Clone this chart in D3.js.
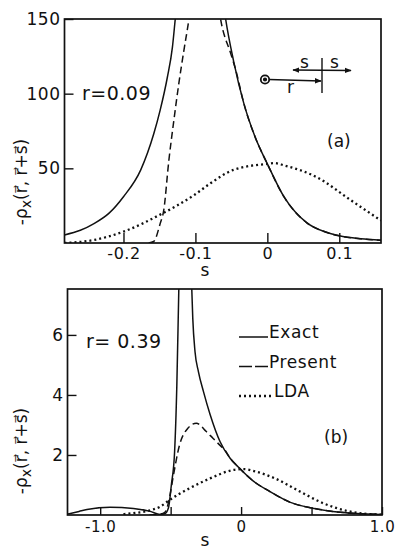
<!DOCTYPE html>
<html>
<head>
<meta charset="utf-8">
<script src="https://cdn.jsdelivr.net/npm/d3@7"></script>
<style>
  body { margin: 0; background: #fff; }
  svg text { font-family: "DejaVu Sans", sans-serif; fill: #111; }
</style>
</head>
<body>
<div id="chart"></div>
<script>
// panel (a), r = 0.09  : [s, -rho_x]
var exactA = [[-0.282,5.4],[-0.26,8.5],[-0.241,13],[-0.22,20],[-0.2,31],[-0.176,49],[-0.158,73],[-0.149,89],
    [-0.139,111],[-0.132,131],[-0.128,150],[-0.11,220],[-0.092,320],[-0.075,220],[-0.058,150],[-0.047,122],
    [-0.033,94],[-0.017,71],[0,53],[0.023,31],[0.055,13.5],[0.08,7.5],[0.1,4.8],[0.13,2.8],[0.158,1.8]];
var presentA = [[-0.165,0],[-0.158,1],[-0.149,13],[-0.144,22],[-0.137,55],[-0.13,82],[-0.123,107],[-0.116,129],
    [-0.109,150],[-0.095,210],[-0.087,230],[-0.078,200],[-0.065,150],[-0.051,127],[-0.044,116],
    [-0.033,94],[-0.017,71],[0,53],[0.023,31],[0.055,13.5],[0.08,7.5],[0.1,4.8],[0.13,2.8],[0.158,1.8]];
var ldaA = [[-0.282,0],[-0.241,2],[-0.2,7.6],[-0.149,19],[-0.102,32],[-0.079,40],[-0.047,49],[0,53],
    [0.01,53.5],[0.023,52],[0.069,44],[0.115,29],[0.158,15]];

// panel (b), r = 0.39
var exactB = [[-1.232,0.03],[-1.15,0.12],[-1.094,0.18],[-0.93,0.26],[-0.764,0.22],[-0.645,0.12],[-0.574,0.02],
    [-0.539,0.05],[-0.515,0.25],[-0.495,1.0],[-0.472,2.1],[-0.456,4.33],[-0.442,7.53],[-0.42,12],[-0.395,20],
    [-0.37,12],[-0.35,7.53],[-0.343,6.56],[-0.327,5.44],[-0.303,4.78],[-0.267,4.11],[-0.22,3.35],[-0.149,2.44],
    [-0.078,1.89],[-0.02,1.6],[0.087,1.13],[0.205,0.78],[0.35,0.42],[0.518,0.22],[0.65,0.12],[0.82,0.05],[1.0,0.02]];
var presentB = [[-0.65,0],[-0.574,0.03],[-0.539,0.1],[-0.507,0.6],[-0.484,1.22],[-0.437,2.33],[-0.378,2.89],
    [-0.318,3.06],[-0.247,2.78],[-0.2,2.56],[-0.14,2.28],[-0.12,2.2],[-0.078,1.89],[-0.02,1.6],[0.087,1.13],
    [0.205,0.78],[0.35,0.42],[0.518,0.22],[0.65,0.12],[0.82,0.05],[1.0,0.02]];
var ldaB = [[-0.835,0.03],[-0.75,0.07],[-0.669,0.13],[-0.574,0.28],[-0.507,0.5],[-0.44,0.7],[-0.366,0.89],
    [-0.22,1.22],[-0.055,1.5],[0.02,1.53],[0.11,1.44],[0.25,1.2],[0.418,0.78],[0.584,0.39],[0.75,0.14],
    [0.915,0.03],[1.0,0.01]];

var xTicksA = [-0.2, -0.1, 0, 0.1];
var xLabelsA = ["-0.2", "-0.1", "0", "0.1"];
var yTicksA = [50, 100, 150];
var xTicksB = [-1.0, -0.5, 0, 0.5, 1.0];
var xLabelsB = ["-1.0", "", "0", "", "1.0"];
var yTicksB = [2, 4, 6];

var styles = {
    exact: {dash: null, width: 1.5},
    present: {dash: "7,4", width: 1.5},
    lda: {dash: "2,3", width: 2.3}
};

var svg = d3.select("#chart").append("svg")
    .attr("width", 398)
    .attr("height", 550);

function drawPanel(cfg){
    var x = d3.scaleLinear().domain(cfg.xDomain).range([cfg.left, cfg.right]);
    var y = d3.scaleLinear().domain(cfg.yDomain).range([cfg.bottom, cfg.top]);
    var g = svg.append("g");

    g.append("clipPath").attr("id", cfg.id + "-clip")
        .append("rect")
        .attr("x", cfg.left).attr("y", cfg.top)
        .attr("width", cfg.right - cfg.left).attr("height", cfg.bottom - cfg.top);

    var line = d3.line()
        .x(function(d){ return x(d[0]); })
        .y(function(d){ return y(d[1]); })
        .curve(d3.curveMonotoneX);

    var curves = g.append("g").attr("clip-path", "url(#" + cfg.id + "-clip)");
    cfg.series.forEach(function(s){
        curves.append("path")
            .attr("d", line(s.data))
            .attr("fill", "none")
            .attr("stroke", "#111")
            .attr("stroke-width", styles[s.kind].width)
            .attr("stroke-dasharray", styles[s.kind].dash);
    });

    // axes, ticks pointing inward
    var xAxis = g.append("g")
        .attr("transform", "translate(0," + cfg.bottom + ")")
        .call(d3.axisBottom(x).tickValues(cfg.xTicks)
            .tickSize(-cfg.tickLen).tickPadding(cfg.xPad)
            .tickFormat(function(d, i){ return cfg.xLabels[i]; }));
    var yAxis = g.append("g")
        .attr("transform", "translate(" + cfg.left + ",0)")
        .call(d3.axisLeft(y).tickValues(cfg.yTicks)
            .tickSize(-9).tickPadding(4));
    [xAxis, yAxis].forEach(function(a){
        a.select(".domain").remove();
        a.selectAll("line").attr("stroke", "#111").attr("stroke-width", 1.4);
        a.selectAll("text").style("font-family", "DejaVu Sans").style("fill", "#111")
            .attr("font-size", cfg.fontSize).style("letter-spacing", "0.5px");
    });
    xAxis.selectAll("text").attr("font-size", cfg.xFontSize);

    g.append("rect")
        .attr("x", cfg.left).attr("y", cfg.top)
        .attr("width", cfg.right - cfg.left).attr("height", cfg.bottom - cfg.top)
        .attr("fill", "none").attr("stroke", "#111").attr("stroke-width", 1.7);

    g.append("text")
        .attr("x", 205).attr("y", cfg.sLabelY)
        .attr("text-anchor", "middle")
        .attr("font-size", 17)
        .text("s");

    // rotated y label
    var yl = g.append("text")
        .attr("transform", "translate(27," + cfg.yLabelMid + ") rotate(-90)")
        .attr("text-anchor", "middle")
        .attr("font-size", 17);
    yl.append("tspan").text("-ρ");
    yl.append("tspan").attr("dy", 4).attr("font-size", 14).text("x");
    yl.append("tspan").attr("dy", -4).text("(r\u20D7, r\u20D7+s\u20D7)");

    g.append("text")
        .attr("x", cfg.rLabel[0]).attr("y", cfg.rLabel[1])
        .attr("font-size", 19)
        .style("letter-spacing", "0.5px")
        .text(cfg.rText);

    g.append("text")
        .attr("x", cfg.tag[0]).attr("y", cfg.tag[1])
        .attr("font-size", 17)
        .text(cfg.tagText);

    return g;
}

var gA = drawPanel({
    id: "a", left: 64.5, right: 381, top: 19, bottom: 243,
    xDomain: [-0.282, 0.158], yDomain: [0, 150],
    xTicks: xTicksA, xLabels: xLabelsA, yTicks: yTicksA,
    tickLen: 10, xPad: 5, fontSize: 17, xFontSize: 16,
    sLabelY: 276, yLabelMid: 182,
    rLabel: [82, 100], rText: "r=0.09",
    tag: [327, 147], tagText: "(a)",
    series: [
        {kind: "lda", data: ldaA},
        {kind: "present", data: presentA},
        {kind: "exact", data: exactA}
    ]
});

var gB = drawPanel({
    id: "b", left: 67.5, right: 382, top: 289, bottom: 515,
    xDomain: [-1.232, 1.0], yDomain: [0, 7.53],
    xTicks: xTicksB, xLabels: xLabelsB, yTicks: yTicksB,
    tickLen: 8, xPad: 6, fontSize: 17, xFontSize: 15,
    sLabelY: 546, yLabelMid: 451,
    rLabel: [86, 348], rText: "r= 0.39",
    tag: [324, 443], tagText: "(b)",
    series: [
        {kind: "lda", data: ldaB},
        {kind: "present", data: presentB},
        {kind: "exact", data: exactB}
    ]
});

// geometry sketch in panel (a)
svg.append("defs").append("marker")
    .attr("id", "arrow").attr("viewBox", "0 0 10 10")
    .attr("refX", 9).attr("refY", 5)
    .attr("markerWidth", 5).attr("markerHeight", 5)
    .attr("orient", "auto-start-reverse")
    .append("path").attr("d", "M0,1 L10,5 L0,9 Z").attr("fill", "#111");

var inset = gA.append("g").attr("stroke", "#111").attr("stroke-width", 1.4);
inset.append("circle").attr("cx", 265).attr("cy", 79.5).attr("r", 4.2).attr("fill", "#fff").attr("stroke-width", 1.8);
inset.append("circle").attr("cx", 265).attr("cy", 79.5).attr("r", 1.4).attr("fill", "#111");
inset.append("line").attr("x1", 269).attr("y1", 79.5).attr("x2", 321).attr("y2", 81)
    .attr("marker-end", "url(#arrow)");
inset.append("line").attr("x1", 322).attr("y1", 58).attr("x2", 322).attr("y2", 93);
inset.append("line").attr("x1", 293).attr("y1", 70).attr("x2", 351).attr("y2", 70.5)
    .attr("marker-start", "url(#arrow)").attr("marker-end", "url(#arrow)");
gA.append("text").attr("x", 300).attr("y", 68).attr("font-size", 17).text("s");
gA.append("text").attr("x", 330).attr("y", 68).attr("font-size", 17).text("s");
gA.append("text").attr("x", 287).attr("y", 93).attr("font-size", 17).text("r");

// legend in panel (b)
var legendItems = [["exact", "Exact", "none"], ["present", "Present", "13,3"], ["lda", "LDA", "2,3"]];
legendItems.forEach(function(d, i){
    var yy = 337 + i * 29.5;
    gB.append("line")
        .attr("x1", 239).attr("x2", d[0] === "lda" ? 271 : 268)
        .attr("y1", yy).attr("y2", yy)
        .attr("stroke", "#111")
        .attr("stroke-width", d[0] === "lda" ? 2.3 : 1.5)
        .attr("stroke-dasharray", d[2]);
    gB.append("text")
        .attr("x", d[0] === "lda" ? 274 : 269).attr("y", yy + 1)
        .attr("font-size", 17)
        .style("letter-spacing", "0.6px")
        .text(d[1]);
});
</script>
</body>
</html>
